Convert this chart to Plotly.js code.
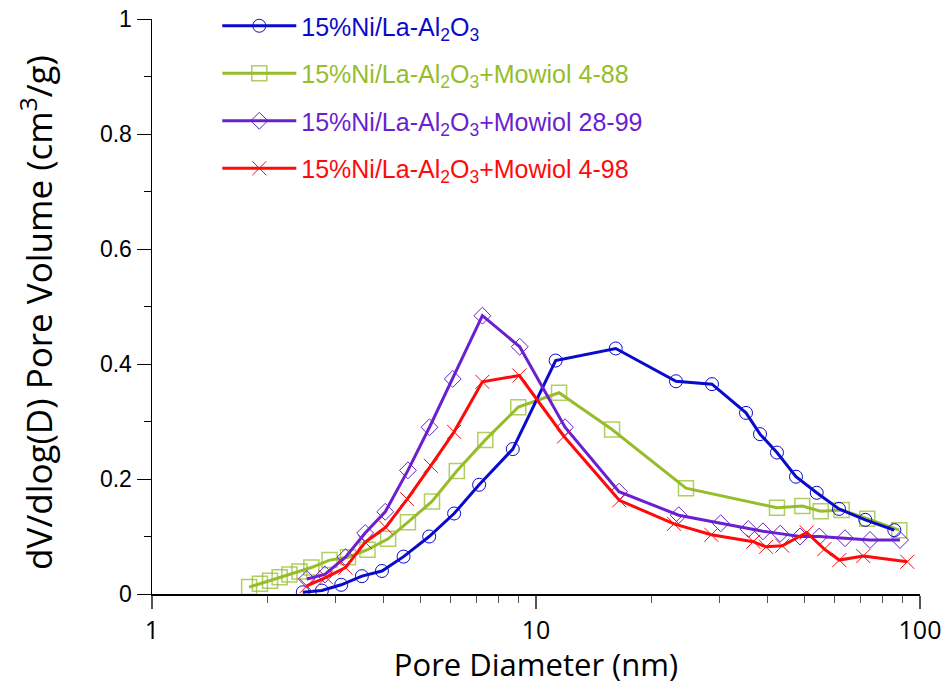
<!DOCTYPE html>
<html>
<head>
<meta charset="utf-8">
<script src="https://cdn.plot.ly/plotly-3.0.1.min.js"></script>
<style>html,body{margin:0;padding:0;background:#fff;}#chart{width:950px;height:696px;}</style>
</head>
<body>
<div id="chart"></div>
<script>
// Pore diameter (nm) and dV/dlog(D) values
const xBlue = [2.47, 2.77, 3.11, 3.52, 3.97, 4.52, 5.27, 6.12, 7.11, 8.70, 11.25, 16.13, 23.15, 28.73, 35.23, 38.31, 42.42, 47.54, 53.83, 61.52, 72.04, 85.74];
const yBlue = [0.003, 0.006, 0.016, 0.031, 0.040, 0.065, 0.100, 0.140, 0.190, 0.252, 0.406, 0.427, 0.370, 0.365, 0.315, 0.278, 0.246, 0.204, 0.176, 0.148, 0.129, 0.111];

const xGreen = [1.79, 1.91, 2.03, 2.15, 2.28, 2.42, 2.60, 2.90, 3.24, 3.64, 4.12, 4.64, 5.36, 6.22, 7.38, 8.99, 11.48, 15.78, 24.58, 42.42, 49.38, 55.13, 62.53, 72.9, 88.34];
const yGreen = [0.012, 0.018, 0.023, 0.029, 0.034, 0.039, 0.046, 0.059, 0.064, 0.077, 0.096, 0.125, 0.161, 0.214, 0.268, 0.325, 0.350, 0.286, 0.184, 0.150, 0.153, 0.144, 0.146, 0.131, 0.111];

const xPurple = [2.53, 2.82, 3.19, 3.59, 4.05, 4.64, 5.28, 6.07, 7.25, 9.07, 11.9, 16.45, 23.53, 30.27, 35.72, 39.0, 43.27, 48.7, 54.67, 63.78, 74.1, 88.7];
const yPurple = [0.026, 0.034, 0.064, 0.106, 0.143, 0.215, 0.290, 0.374, 0.484, 0.430, 0.290, 0.178, 0.137, 0.123, 0.113, 0.109, 0.105, 0.100, 0.100, 0.097, 0.094, 0.094];

const xRed = [2.53, 2.84, 3.19, 3.59, 4.06, 4.62, 5.32, 6.12, 7.25, 9.05, 11.83, 16.48, 22.88, 28.61, 36.8, 39.72, 43.79, 50.69, 56.34, 61.64, 71.16, 92.66];
const yRed = [0.014, 0.029, 0.046, 0.090, 0.116, 0.165, 0.223, 0.282, 0.369, 0.380, 0.274, 0.163, 0.122, 0.103, 0.091, 0.082, 0.084, 0.107, 0.078, 0.059, 0.066, 0.056];

const names = [
  '15%Ni/La-Al<sub>2</sub>O<sub>3</sub>',
  '15%Ni/La-Al<sub>2</sub>O<sub>3</sub>+Mowiol 4-88',
  '15%Ni/La-Al<sub>2</sub>O<sub>3</sub>+Mowiol 28-99',
  '15%Ni/La-Al<sub>2</sub>O<sub>3</sub>+Mowiol 4-98'
];
const colors = ['#0a0acc', '#96bd2c', '#6a1fd0', '#ff0a0a'];

const traces = [
  {x: xGreen, y: yGreen, name: names[1], legendrank: 2, legendgroup: 'g2', mode: 'lines+markers',
   line: {color: colors[1], width: 3},
   marker: {symbol: 'square-open', size: 15, color: 'rgba(150,189,44,0.75)', line: {width: 1.5}}},
  {x: xBlue, y: yBlue, name: names[0], legendrank: 1, legendgroup: 'g1', mode: 'lines+markers',
   line: {color: colors[0], width: 3},
   marker: {symbol: 'circle-open', size: 13, color: colors[0], line: {width: 1}}},
  {x: xPurple, y: yPurple, name: names[2], legendrank: 3, legendgroup: 'g3', mode: 'lines+markers',
   line: {color: colors[2], width: 3},
   marker: {symbol: 'diamond-open', size: 13, color: colors[2], line: {width: 1}}},
  {x: xRed, y: yRed, name: names[3], legendrank: 4, legendgroup: 'g4', mode: 'lines+markers',
   line: {color: colors[3], width: 3},
   marker: {symbol: 'x-thin-open', size: 14, color: colors[3], line: {width: 1, color: colors[3]}}}
];

const layout = {
  width: 950, height: 696,
  margin: {l: 152, r: 30, t: 19, b: 102, autoexpand: false},
  paper_bgcolor: '#fff', plot_bgcolor: '#fff',
  showlegend: true,
  legend: {
    x: 0.085, y: 1.0278, xanchor: 'left', yanchor: 'top',
    font: {family: 'Liberation Sans, Arial, sans-serif', size: 25},
    itemwidth: 74, tracegroupgap: 12, bgcolor: 'rgba(0,0,0,0)',
    traceorder: 'grouped'
  },
  xaxis: {
    type: 'log', range: [0, 2], automargin: false,
    showgrid: false, zeroline: false, showline: true, linecolor: '#000', linewidth: 1.5,
    ticks: 'outside', ticklen: 13, tickwidth: 1.5, tickcolor: '#555',
    tickvals: [1, 10, 100], ticktext: ['1', '10', '100'],
    minor: {ticks: 'outside', ticklen: 7, tickwidth: 1, tickcolor: '#555', dtick: 'D1', showgrid: false},
    tickfont: {family: 'Open Sans, sans-serif', size: 25, color: '#000'},
    title: {text: 'Pore Diameter (nm)', font: {family: 'Open Sans, sans-serif', size: 31, color: '#000'}}
  },
  yaxis: {
    range: [0, 1], automargin: false,
    showgrid: false, zeroline: false, showline: true, linecolor: '#000', linewidth: 1.5,
    ticks: 'outside', ticklen: 14, tickwidth: 1, tickcolor: '#000',
    tickvals: [0, 0.2, 0.4, 0.6, 0.8, 1], ticktext: ['0', '0.2', '0.4', '0.6', '0.8', '1'],
    minor: {ticks: 'outside', ticklen: 7, tickwidth: 1, tickcolor: '#000', dtick: 0.1, showgrid: false},
    tickfont: {family: 'Liberation Sans, Arial, sans-serif', size: 23, color: '#000'},
    title: {text: 'dV/dlog(D) Pore Volume (cm<sup>3</sup>/g)', font: {family: 'Open Sans, sans-serif', size: 35, color: '#000'}}
  }
};

Plotly.newPlot('chart', traces, layout, {displayModeBar: false, staticPlot: true}).then(function () {
  // colour each legend label like its series
  document.querySelectorAll('.legend .traces').forEach(function (g) {
    const txt = g.querySelector('text.legendtext');
    if (!txt) return;
    const d = g.__data__;
    const tr = d && d[0] && d[0].trace;
    if (tr) txt.style.fill = tr.line.color;
  });
  // nudge axis titles to match the reference placement
  const yt = document.querySelector('.g-ytitle');
  if (yt) yt.setAttribute('transform', 'translate(-20,6)');
  const xtText = document.querySelector('text.xtitle');
  if (xtText) {
    const yv = parseFloat(xtText.getAttribute('y'));
    if (!isNaN(yv)) xtText.setAttribute('y', String(yv - 11));
    xtText.querySelectorAll('tspan[y]').forEach(function (ts) {
      const ty = parseFloat(ts.getAttribute('y'));
      if (!isNaN(ty)) ts.setAttribute('y', String(ty - 11));
    });
  }
});
</script>
</body>
</html>
